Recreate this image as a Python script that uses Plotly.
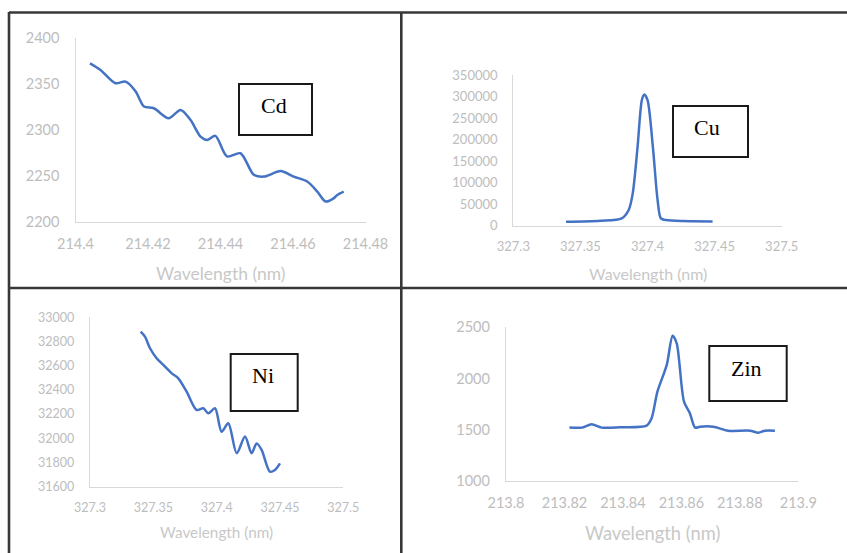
import plotly.graph_objects as go

W, H = 847, 553

# Cd emission spectrum around 214.44 nm
cd_wl = [214.4040, 214.4069, 214.4110, 214.4138, 214.4166, 214.4189, 214.4216,
         214.4257, 214.4290, 214.4317, 214.4345, 214.4363, 214.4386, 214.4418,
         214.4455, 214.4492, 214.4520, 214.4566, 214.4602, 214.4639, 214.4667,
         214.4690, 214.4713, 214.4722, 214.4740]
cd_int = [2372.7, 2365.5, 2351, 2352.7, 2342, 2325.5, 2323.6, 2312.7, 2321.8,
          2311, 2292.7, 2289, 2293.5, 2271, 2274.5, 2251, 2249, 2255, 2249,
          2243.6, 2232.7, 2221.8, 2225.5, 2229, 2232.7]

# Cu emission spectrum around 327.40 nm
cu_wl = [327.3393, 327.3647, 327.3808, 327.3860, 327.3890, 327.3926, 327.3958,
         327.3976, 327.4000, 327.4040, 327.4075, 327.4100, 327.4140, 327.4266,
         327.4485]
cu_int = [9300, 11600, 17000, 36400, 75000, 183000, 292000, 305000, 292000,
          183000, 60000, 17000, 13000, 10800, 10000]

# Ni emission spectrum around 327.40 nm
ni_wl = [327.3400, 327.3434, 327.3474, 327.3526, 327.3579, 327.3645, 327.3697,
         327.3763, 327.3842, 327.3895, 327.3934, 327.3987, 327.4039, 327.4092,
         327.4158, 327.4224, 327.4276, 327.4316, 327.4355, 327.4421, 327.4460,
         327.4500]
ni_int = [32881, 32840, 32744, 32661, 32606, 32537, 32496, 32386, 32234, 32248,
          32206, 32248, 32055, 32124, 31876, 32014, 31876, 31958, 31904, 31724,
          31738, 31793]

# Zn emission spectrum around 213.86 nm
zn_wl = [213.8217, 213.8259, 213.8293, 213.8327, 213.8390, 213.8481, 213.8498,
         213.8518, 213.8550, 213.8570, 213.8584, 213.8609, 213.8629, 213.8647,
         213.8664, 213.8709, 213.8760, 213.8835, 213.8863, 213.8886, 213.8920]
zn_int = [1519, 1519, 1551, 1519, 1522, 1538, 1610, 1871, 2132, 2418, 2343,
          1773, 1659, 1519, 1528, 1528, 1489, 1489, 1470, 1489, 1489]

cd_xticks = [214.4, 214.42, 214.44, 214.46, 214.48]
cd_xlabels = ["214.4", "214.42", "214.44", "214.46", "214.48"]
cd_yticks = [2200, 2250, 2300, 2350, 2400]

cu_xticks = [327.3, 327.35, 327.4, 327.45, 327.5]
cu_xlabels = ["327.3", "327.35", "327.4", "327.45", "327.5"]
cu_yticks = [0, 50000, 100000, 150000, 200000, 250000, 300000, 350000]

ni_xticks = [327.3, 327.35, 327.4, 327.45, 327.5]
ni_xlabels = ["327.3", "327.35", "327.4", "327.45", "327.5"]
ni_yticks = [31600, 31800, 32000, 32200, 32400, 32600, 32800, 33000]

zn_xticks = [213.8, 213.82, 213.84, 213.86, 213.88, 213.9]
zn_xlabels = ["213.8", "213.82", "213.84", "213.86", "213.88", "213.9"]
zn_yticks = [1000, 1500, 2000, 2500]

element_labels = ["Cd", "Cu", "Ni", "Zin"]
x_title = "Wavelength (nm)"

LINE = "#4472C4"
TICK = "#bdbdbd"
AXIS = "#d9d9d9"


def px(x):
    return x / W


def py(y):
    return 1 - y / H


# pixel geometry of each panel: plot area, font sizes, element box
panels = [
    dict(wl=cd_wl, it=cd_int, xt=cd_xticks, xl=cd_xlabels, yt=cd_yticks,
         xr=[214.4, 214.48], yr=[2200, 2400],
         box=(75.5, 365.5, 38.3, 221.5), fs=14.5, tfs=17.5, ty=273,
         lbl=(239, 312, 84, 135), lc=(274, 105)),
    dict(wl=cu_wl, it=cu_int, xt=cu_xticks, xl=cu_xlabels, yt=cu_yticks,
         xr=[327.3, 327.5], yr=[0, 350000],
         box=(513.3, 781.7, 75, 225.7), fs=13, tfs=16, ty=273,
         lbl=(673, 748, 106, 157), lc=(707, 128)),
    dict(wl=ni_wl, it=ni_int, xt=ni_xticks, xl=ni_xlabels, yt=ni_yticks,
         xr=[327.3, 327.5], yr=[31600, 33000],
         box=(90, 343.3, 317.3, 486.7), fs=12.5, tfs=15.3, ty=531.7,
         lbl=(230.7, 297.7, 354, 411), lc=(262.7, 375)),
    dict(wl=zn_wl, it=zn_int, xt=zn_xticks, xl=zn_xlabels, yt=zn_yticks,
         xr=[213.8, 213.9], yr=[1000, 2500],
         box=(506, 798.3, 327.3, 480.7), fs=14.5, tfs=18.3, ty=533,
         lbl=(709.3, 786.7, 346, 401), lc=(746.7, 368.3)),
]

fig = go.Figure()
shapes = []
annotations = []
FONT = "Lato, Open Sans, sans-serif"

for i, p in enumerate(panels, start=1):
    sfx = "" if i == 1 else str(i)
    fig.add_trace(go.Scatter(
        x=p["wl"], y=p["it"], mode="lines",
        line=dict(color=LINE, width=2.5, shape="spline", smoothing=0.8),
        xaxis="x" + sfx, yaxis="y" + sfx, showlegend=False,
        hoverinfo="skip"))
    x0, x1, y0, y1 = p["box"]
    fig.layout["xaxis" + sfx] = dict(
        domain=[px(x0), px(x1)], range=p["xr"], anchor="y" + sfx,
        automargin=False,
        tickvals=p["xt"], ticktext=p["xl"],
        showline=True, linecolor=AXIS, linewidth=1.3,
        showgrid=False, zeroline=False,
        ticks="outside", ticklen=9, tickcolor="rgba(0,0,0,0)",
        tickfont=dict(family=FONT, size=p["fs"], color=TICK))
    fig.layout["yaxis" + sfx] = dict(
        domain=[py(y1), py(y0)], range=p["yr"], anchor="x" + sfx,
        automargin=False,
        tickvals=p["yt"], ticktext=[str(v) for v in p["yt"]],
        showline=True, linecolor=AXIS, linewidth=1.3,
        showgrid=False, zeroline=False,
        ticks="outside", ticklen=12, tickcolor="rgba(0,0,0,0)",
        tickfont=dict(family=FONT, size=p["fs"], color=TICK))
    annotations.append(dict(
        x=px((x0 + x1) / 2), y=py(p["ty"]), xref="paper", yref="paper",
        text=x_title, showarrow=False, xanchor="center", yanchor="middle",
        font=dict(family=FONT, size=p["tfs"], color="#c8c8c8")))
    bx0, bx1, by0, by1 = p["lbl"]
    shapes.append(dict(type="rect", xref="paper", yref="paper",
                       x0=px(bx0), x1=px(bx1), y0=py(by1), y1=py(by0),
                       line=dict(color="#1a1a1a", width=2),
                       fillcolor="white", layer="above"))
    annotations.append(dict(
        x=px(p["lc"][0]), y=py(p["lc"][1]), xref="paper", yref="paper",
        text=element_labels[i - 1], showarrow=False,
        xanchor="center", yanchor="middle",
        font=dict(family="Liberation Serif, serif", size=22, color="black")))

# outer frame dividing the four panels
FRAME = dict(color="#383838", width=2.6)
for seg in [((9, 12.5), (W, 12.5)), ((9, 288), (W, 288)),
            ((9, 12), (9, H)), ((401.3, 12), (401.3, H))]:
    (ax, ay), (bx, by) = seg
    shapes.append(dict(type="line", xref="paper", yref="paper",
                       x0=px(ax), y0=py(ay), x1=px(bx), y1=py(by),
                       line=FRAME, layer="above"))

fig.update_layout(
    width=W, height=H, margin=dict(l=0, r=0, t=0, b=0, autoexpand=False),
    paper_bgcolor="white", plot_bgcolor="white",
    shapes=shapes, annotations=annotations)

fig.write_html("out.html")
